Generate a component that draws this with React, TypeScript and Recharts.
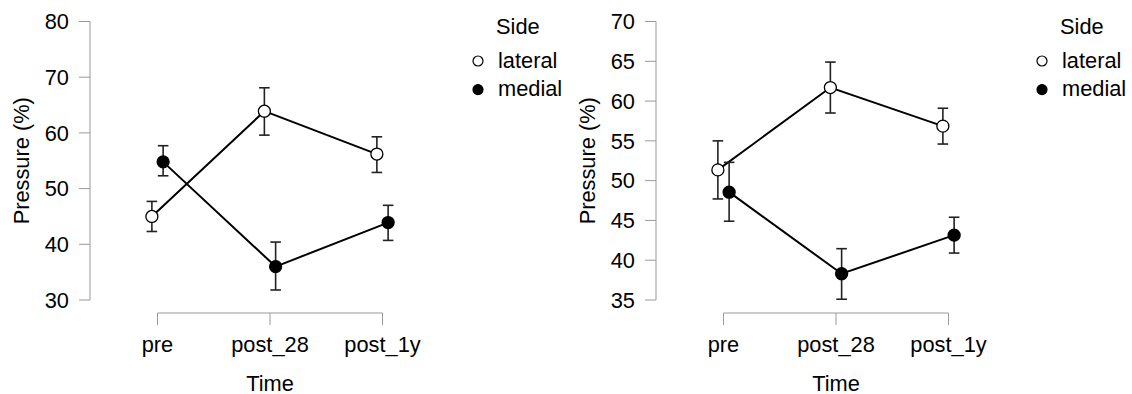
import React from 'react';
import { LineChart, Line, XAxis, YAxis, ErrorBar, Legend } from 'recharts';

// ---------- data ----------
const categories = ['pre', 'post_28', 'post_1y'];
const categoryPositions = [1, 2, 3];
const seriesNames = ['lateral', 'medial'];
const legendTitle = 'Side';
const xTitle = 'Time';
const yTitle = 'Pressure (%)';

// left panel
const leftLateralMean = [45.0, 63.9, 56.2];
const leftLateralLower = [42.3, 59.6, 52.9];
const leftLateralUpper = [47.7, 68.1, 59.3];
const leftMedialMean = [54.8, 36.0, 43.9];
const leftMedialLower = [52.3, 31.8, 40.7];
const leftMedialUpper = [57.7, 40.4, 47.0];
const leftYTicks = [30, 40, 50, 60, 70, 80];

// right panel
const rightLateralMean = [51.35, 61.7, 56.85];
const rightLateralLower = [47.7, 58.5, 54.6];
const rightLateralUpper = [55.0, 64.9, 59.1];
const rightMedialMean = [48.55, 38.3, 43.15];
const rightMedialLower = [44.9, 35.1, 40.9];
const rightMedialUpper = [52.3, 41.45, 45.4];
const rightYTicks = [35, 40, 45, 50, 55, 60, 65, 70];

// ---------- layout / style ----------
const FONT = "'Liberation Sans', Arial, Helvetica, sans-serif";
const FS = 21.8;
const CHART_W = 566;
const CHART_H = 394;
const Y_AXIS_W = 90;
const X_AXIS_H = 94;
const MARGIN = { top: 21.5, right: 116, bottom: 0, left: 0 };
const X_DOMAIN: [number, number] = [0.4, 3.6];
const PLOT_W = CHART_W - MARGIN.left - MARGIN.right - Y_AXIS_W;
const UNIT = PLOT_W / (X_DOMAIN[1] - X_DOMAIN[0]);
const DODGE = 0.05;
const AXIS_GRAY = '#999999';
const seriesFill: Record<string, string> = { lateral: '#ffffff', medial: '#000000' };
const seriesDodge: Record<string, number> = { lateral: -DODGE, medial: DODGE };

function buildRows(means: number[], lowers: number[], uppers: number[], offset: number) {
  return categoryPositions.map((pos, i) => ({
    x: pos + offset,
    cat: categories[i],
    y: means[i],
    err: [means[i] - lowers[i], uppers[i] - means[i]],
  }));
}

const XTick = (props: any) => {
  const { x, y, payload, index } = props;
  const label = categories[categoryPositions.indexOf(payload.value)];
  const axisY = y + 13;
  return (
    <g>
      {index === 0 && (
        <line
          x1={x}
          y1={axisY}
          x2={x + UNIT * (categoryPositions[categoryPositions.length - 1] - categoryPositions[0])}
          y2={axisY}
          stroke={AXIS_GRAY}
          strokeWidth={1}
        />
      )}
      <line x1={x} y1={axisY} x2={x} y2={axisY + 12} stroke={AXIS_GRAY} strokeWidth={1} />
      <text x={x} y={y + 51.5} textAnchor="middle" fontSize={FS} fontFamily={FONT} fill="#000">
        {label}
      </text>
    </g>
  );
};

const makeLegend = (left: number) => (props: any) => {
  const payload = (props.payload || []) as any[];
  return (
    <svg width={130} height={110} style={{ display: 'block', overflow: 'visible' }}>
      <text x={left + 26} y={34} fontSize={FS} fontFamily={FONT} fill="#000">
        {legendTitle}
      </text>
      {payload.map((p, i) => (
        <g key={p.value}>
          <circle
            cx={left + 8}
            cy={61 + i * 28.6}
            r={5}
            fill={seriesFill[p.value]}
            stroke="#000"
            strokeWidth={1.2}
          />
          <text x={left + 28} y={67.5 + i * 28.6} fontSize={FS} fontFamily={FONT} fill="#000">
            {p.value}
          </text>
        </g>
      ))}
    </svg>
  );
};

type PanelProps = {
  lat: { m: number[]; l: number[]; u: number[] };
  med: { m: number[]; l: number[]; u: number[] };
  yTicks: number[];
  legendShift: number;
};

const Panel = ({ lat, med, yTicks, legendShift }: PanelProps) => {
  const latRows = buildRows(lat.m, lat.l, lat.u, seriesDodge.lateral);
  const medRows = buildRows(med.m, med.l, med.u, seriesDodge.medial);
  const yDomain: [number, number] = [yTicks[0], yTicks[yTicks.length - 1]];
  const series = [
    { name: seriesNames[0], rows: latRows },
    { name: seriesNames[1], rows: medRows },
  ];
  return (
    <LineChart width={CHART_W} height={CHART_H} margin={MARGIN}>
      <XAxis
        type="number"
        dataKey="x"
        domain={X_DOMAIN}
        ticks={categoryPositions}
        interval={0}
        height={X_AXIS_H}
        axisLine={false}
        tickLine={false}
        tickSize={0}
        tickMargin={0}
        tick={<XTick />}
        label={{
          content: (p: any) => {
            const vb = p.viewBox || { x: Y_AXIS_W, y: 300, width: PLOT_W, height: X_AXIS_H };
            return (
              <text
                x={vb.x + vb.width / 2}
                y={vb.y + 90.5}
                textAnchor="middle"
                fontSize={FS}
                fontFamily={FONT}
                fill="#000"
              >
                {xTitle}
              </text>
            );
          },
        }}
      />
      <YAxis
        type="number"
        domain={yDomain}
        ticks={yTicks}
        interval={0}
        width={Y_AXIS_W}
        tickSize={11}
        tickMargin={10}
        axisLine={{ stroke: AXIS_GRAY, strokeWidth: 1 }}
        tickLine={{ stroke: AXIS_GRAY, strokeWidth: 1 }}
        tick={{ fill: '#000', fontSize: FS, fontFamily: FONT }}
        label={{
          content: (p: any) => {
            const vb = p.viewBox || { x: 0, y: MARGIN.top, width: Y_AXIS_W, height: 278.5 };
            const cx = vb.x + 21;
            const cy = vb.y + vb.height / 2;
            return (
              <text
                transform={`translate(${cx},${cy}) rotate(-90)`}
                textAnchor="middle"
                dominantBaseline="central"
                fontSize={FS}
                fontFamily={FONT}
                fill="#000"
              >
                {yTitle}
              </text>
            );
          },
        }}
      />
      <Legend
        layout="vertical"
        align="center"
        verticalAlign="middle"
        wrapperStyle={{ left: 470, top: 0, width: 130, height: 110 }}
        content={makeLegend(legendShift)}
      />
      {series.map((s) => (
        <Line
          key={s.name}
          name={s.name}
          data={s.rows}
          dataKey="y"
          stroke="#000"
          strokeWidth={2}
          legendType="circle"
          dot={{ r: 6, fill: seriesFill[s.name], stroke: '#000', strokeWidth: 1.3 }}
          activeDot={false}
          isAnimationActive={false}
        >
          <ErrorBar dataKey="err" direction="y" width={5.3} stroke="#222" strokeWidth={1.6} />
        </Line>
      ))}
    </LineChart>
  );
};

export default function App() {
  return (
    <div
      style={{
        position: 'absolute',
        left: 0,
        top: 0,
        width: 1132,
        height: 394,
        background: '#fff',
        fontFamily: FONT,
      }}
    >
      <div style={{ position: 'absolute', left: 0, top: 0 }}>
        <Panel
          lat={{ m: leftLateralMean, l: leftLateralLower, u: leftLateralUpper }}
          med={{ m: leftMedialMean, l: leftMedialLower, u: leftMedialUpper }}
          yTicks={leftYTicks}
          legendShift={0}
        />
      </div>
      <div style={{ position: 'absolute', left: 566, top: 0 }}>
        <Panel
          lat={{ m: rightLateralMean, l: rightLateralLower, u: rightLateralUpper }}
          med={{ m: rightMedialMean, l: rightMedialLower, u: rightMedialUpper }}
          yTicks={rightYTicks}
          legendShift={-2}
        />
      </div>
    </div>
  );
}
